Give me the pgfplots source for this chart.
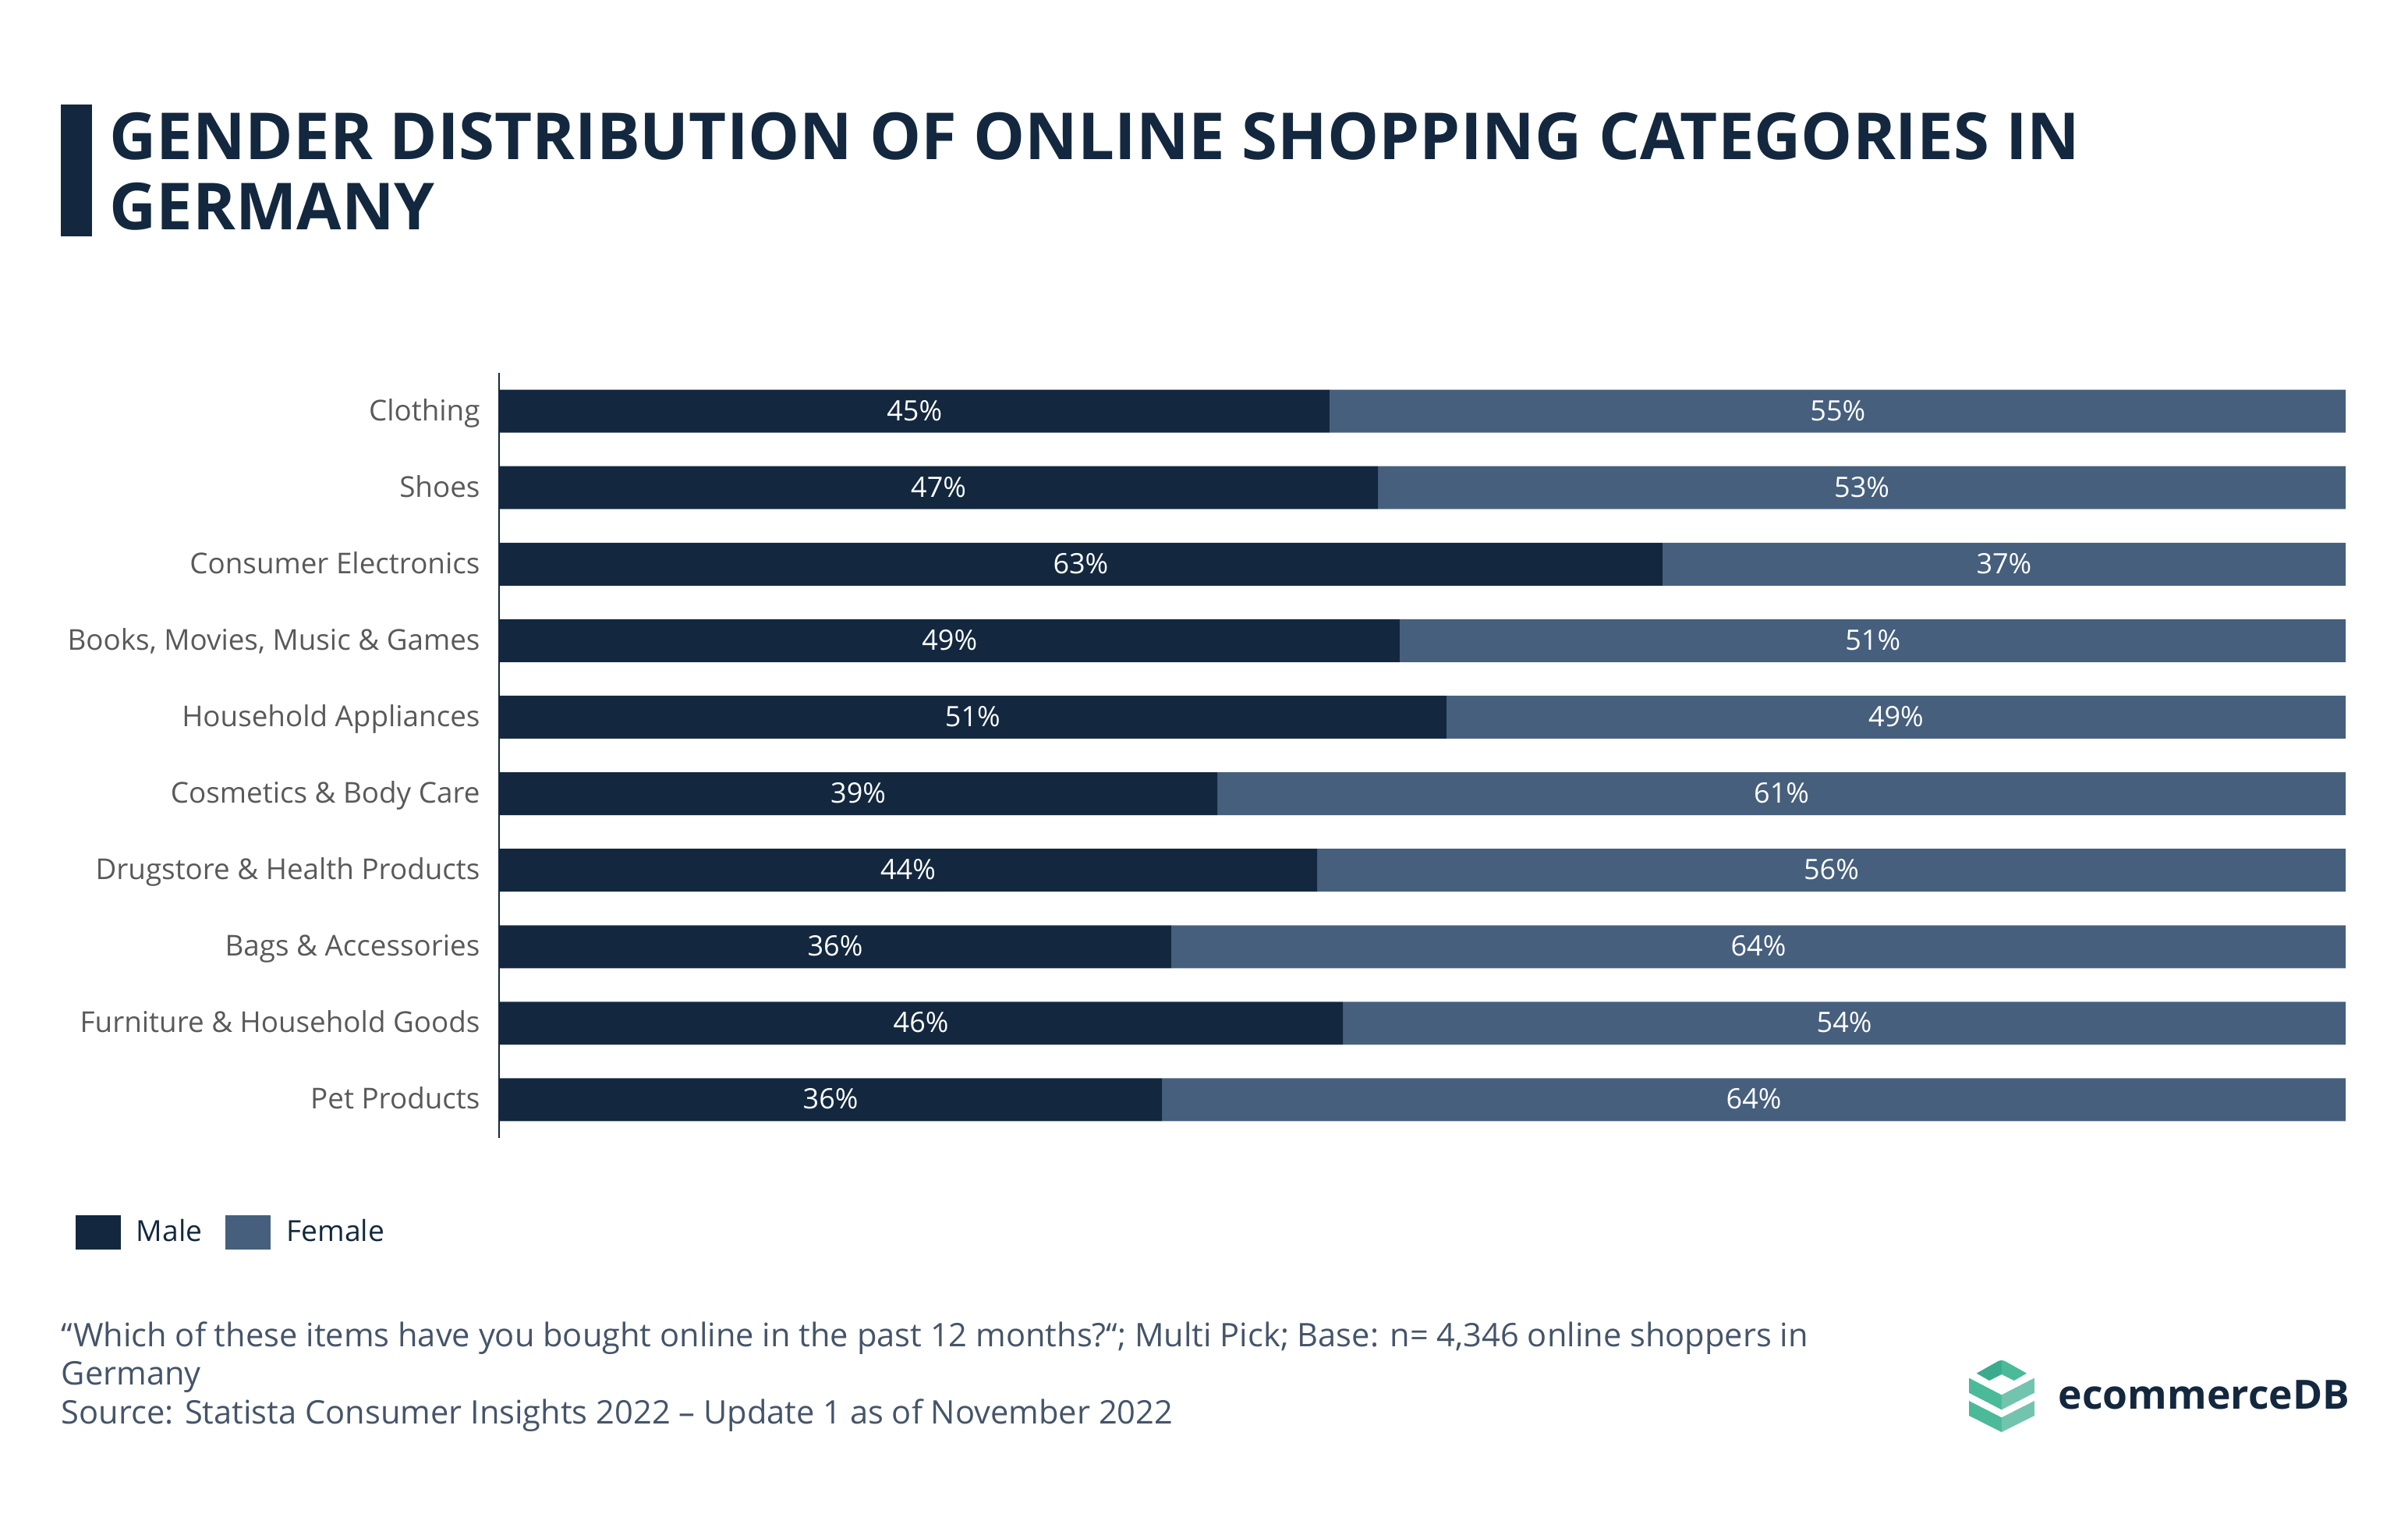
\documentclass[border=0pt]{standalone}
\usepackage{fontspec}
\setmainfont{Open Sans}
\usepackage{pgfplots}
\usepackage{pgfplotstable}
\pgfplotsset{compat=1.18}
\definecolor{navy}{HTML}{13283F}
\definecolor{fem}{HTML}{465F7D}
\definecolor{lblgray}{HTML}{595959}
\definecolor{foot}{HTML}{44546A}
\definecolor{gA}{HTML}{3AAB8C}
\definecolor{gB}{HTML}{4BBA99}
\definecolor{gC}{HTML}{72C4AF}

\pgfplotstableread{
idx male female lm lf
0 45.0 55.0 45 55
1 47.6 52.4 47 53
2 63.0 37.0 63 37
3 48.8 51.2 49 51
4 51.3 48.7 51 49
5 38.9 61.1 39 61
6 44.3 55.7 44 56
7 36.4 63.6 36 64
8 45.7 54.3 46 54
9 35.9 64.1 36 64
}\datatable

\pgfplotsset{
  common/.style={
    scale only axis, width=592pt, height=245.25pt,
    at={(160pt,-119.5pt)}, anchor=north west,
    xmin=0, xmax=100, ymin=-0.5, ymax=9.5, y dir=reverse,
  }
}

\begin{document}
\begin{tikzpicture}
\path[use as bounding box] (0pt,0pt) rectangle (772pt,-487.5pt);
% title
\fill[navy] (19.5pt,-33.5pt) rectangle (29.5pt,-75.75pt);
\node[anchor=base west, inner sep=0pt, text=navy, font=\bfseries\fontsize{20.8}{22}\selectfont] at (34.9pt,-51pt) {GENDER DISTRIBUTION OF ONLINE SHOPPING CATEGORIES IN};
\node[anchor=base west, inner sep=0pt, text=navy, font=\bfseries\fontsize{20.8}{22}\selectfont] at (34.9pt,-73.5pt) {GERMANY};

\begin{axis}[common,
  xbar stacked, bar width=13.75pt,
  axis x line=none, axis y line=left,
  axis line style={-, draw=navy, line width=0.6pt},
  ytick={0,...,9},
  yticklabels={Clothing, Shoes, Consumer Electronics, {Books, Movies, Music \& Games}, Household Appliances, Cosmetics \& Body Care, Drugstore \& Health Products, Bags \& Accessories, Furniture \& Household Goods, Pet Products},
  major tick length=0pt,
  yticklabel style={font=\fontsize{9.2}{10}\selectfont, text=lblgray, xshift=-2.6pt, text height=6pt, text depth=0pt},
  legend style={at={(axis description cs:-0.2297,-0.1233)}, anchor=west, draw=none, fill=none, inner sep=0pt,
    font=\fontsize{9.3}{11}\selectfont, text=navy,
    /tikz/every odd column/.append style={column sep=3pt},
    /tikz/every even column/.append style={column sep=5.5pt}},
  legend columns=2,
  legend image code/.code={\fill[#1] (0pt,-5.5pt) rectangle (14.5pt,5.5pt);},
]
\addplot[fill=navy, draw=none] table[x=male, y=idx] {\datatable};
\addlegendentry{Male}
\addplot[fill=fem, draw=none] table[x=female, y=idx] {\datatable};
\addlegendentry{Female}
\end{axis}

\begin{axis}[common, hide axis]
\addplot[only marks, mark=none, point meta=explicit symbolic,
  nodes near coords={\pgfplotspointmeta\%},
  every node near coord/.append style={anchor=center, text=white, font=\fontsize{9}{10}\selectfont, text height=6pt, text depth=0pt}]
  table[x expr=\thisrow{male}/2, y=idx, meta=lm] {\datatable};
\addplot[only marks, mark=none, point meta=explicit symbolic,
  nodes near coords={\pgfplotspointmeta\%},
  every node near coord/.append style={anchor=center, text=white, font=\fontsize{9}{10}\selectfont, text height=6pt, text depth=0pt}]
  table[x expr=\thisrow{male}+\thisrow{female}/2, y=idx, meta=lf] {\datatable};
\end{axis}

% footer
\node[anchor=base west, inner sep=0pt, text=foot, font=\fontsize{10.4}{12}\selectfont] at (19.5pt,-431.5pt) {“Which of these items have you bought online in the past 12 months?“; Multi Pick; Base: n= 4,346 online shoppers in};
\node[anchor=base west, inner sep=0pt, text=foot, font=\fontsize{10.4}{12}\selectfont] at (19.5pt,-443.75pt) {Germany};
\node[anchor=base west, inner sep=0pt, text=foot, font=\fontsize{10.4}{12}\selectfont] at (19.5pt,-456.25pt) {Source: Statista Consumer Insights 2022 – Update 1 as of November 2022};

% logo
\begin{scope}[shift={(625pt,-430pt)}, x=0.0893pt, y=-0.0833pt]
\fill[gA] (97,122) -- (170,78) to[out=30,in=180] (187,72) -- (187,126) -- (143,150) -- cycle;
\fill[gB] (187,72) to[out=0,in=150] (204,78) -- (277,122) -- (232,150) -- (187,126) -- cycle;
\fill[gB] (70,140) -- (187,205) -- (187,262) -- (70,197) -- cycle;
\fill[gC] (187,205) -- (305,140) -- (305,197) -- (187,262) -- cycle;
\fill[gB] (70,228) -- (187,292) -- (187,348) -- (70,285) -- cycle;
\fill[gC] (187,292) -- (305,228) -- (305,285) -- (187,348) -- cycle;
\end{scope}
\node[anchor=base west, inner sep=0pt, text=navy, font=\bfseries\fontsize{12.9}{14}\selectfont] at (659.75pt,-451.5pt) {ecommerceDB};
\end{tikzpicture}
\end{document}
